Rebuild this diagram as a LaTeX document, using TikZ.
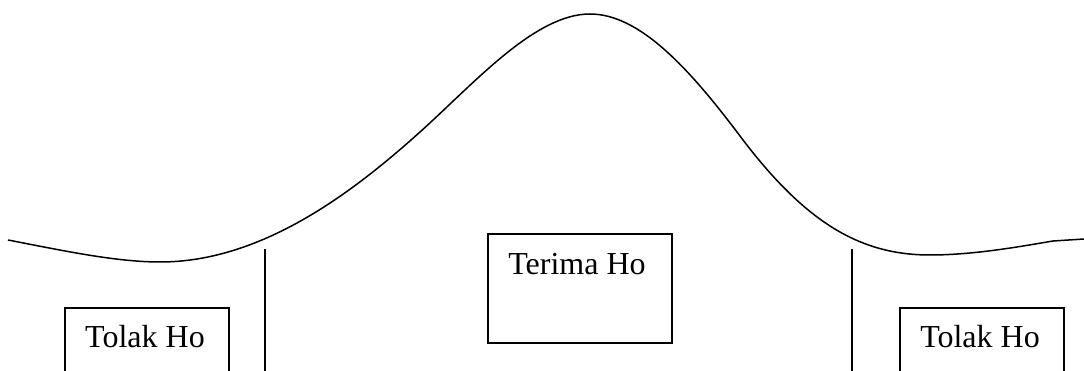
\documentclass[tikz,border=0pt]{standalone}
\usepackage{fontspec}
\setmainfont{Liberation Serif}
\begin{document}
\begin{tikzpicture}[x=1pt,y=-1pt,
  line width=1.6pt,
  boxstyle/.style={draw,line width=1.6pt,inner sep=0pt,anchor=north west},
  lbl/.style={anchor=base,inner sep=0pt,font=\fontsize{32}{38}\selectfont}]
\useasboundingbox (0,0) rectangle (1084,371);
\clip (0,0) rectangle (1084,371);
% bell curve
\draw[line width=1.5pt] (8,240)
  .. controls (60,250) and (115,262) .. (160,262)
  .. controls (260,262) and (350,195) .. (420,132)
  .. controls (475,82.5) and (535,14) .. (590,14)
  .. controls (640,14) and (690,69.5) .. (740,136)
  .. controls (805,222.5) and (860,255) .. (930,255)
  .. controls (975,255) and (1023,246) .. (1053,241)
  -- (1084,239);
% critical lines
\coordinate (l1) at (265,249);
\coordinate (l1b) at (265,380);
\coordinate (r1) at (852,249);
\coordinate (r1b) at (852,380);
\draw (l1) -- (l1b);
\draw (r1) -- (r1b);
% boxes
\node[boxstyle,minimum width=164pt,minimum height=120pt] (boxL) at (64,307) {};
\node[boxstyle,minimum width=164pt,minimum height=120pt] (boxR) at (899,307) {};
\node[boxstyle,minimum width=184pt,minimum height=109pt] (boxC) at (487,233) {};
\node[lbl] (tL) at (145,347) {Tolak Ho};
\node[lbl] (tR) at (980,347) {Tolak Ho};
\node[lbl] (tC) at (577,275) {Terima Ho};
\end{tikzpicture}
\end{document}
